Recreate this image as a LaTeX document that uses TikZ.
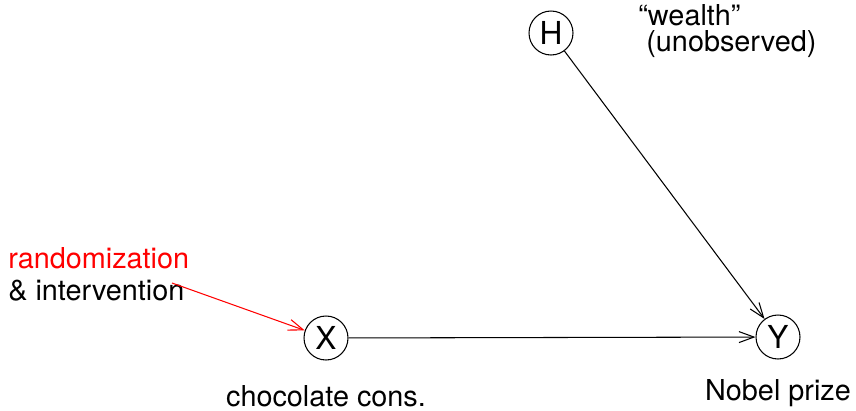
\documentclass[tikz,border=0pt]{standalone}
\usepackage{fontspec}
\setmainfont{TeX Gyre Heros}
\usepackage{tikz}
\usetikzlibrary{arrows.meta}

\begin{document}
\begin{tikzpicture}[x=0.02cm, y=-0.02cm,
  var/.style={draw, circle, minimum size=0.88cm, inner sep=0pt, semithick, font=\fontsize{18}{20}\selectfont},
  lab/.style={font=\fontsize{16.4}{18.2}\selectfont, inner sep=0pt},
  arr/.style={-{Straight Barb[length=3mm, width=2.2mm]}, semithick}]
  \useasboundingbox (0,0) rectangle (856,410);
  % variables
  \node[var] (H) at (551,33) {H};
  \node[var] (X) at (326,338) {X};
  \node[var] (Y) at (778,337) {Y};
  % labels
  \node[lab, font=\fontsize{16.4}{14.6}\selectfont, align=left, anchor=base west] (wealth) at (638,51) {“wealth”\\\ (unobserved)};
  \node[lab, align=left, anchor=base west] (rnd) at (8,300) {\textcolor{red}{randomization}\\\& intervention};
  \node[lab] (choc) at (326,396) {chocolate cons.};
  \node[lab] (nobel) at (778,393) {Nobel prize};
  \coordinate (src) at (172,283);
  % edges
  \draw[arr] (H) -- (Y);
  \draw[arr] (X) -- (Y);
  \draw[arr, red] (src) -- (X);
\end{tikzpicture}
\end{document}
